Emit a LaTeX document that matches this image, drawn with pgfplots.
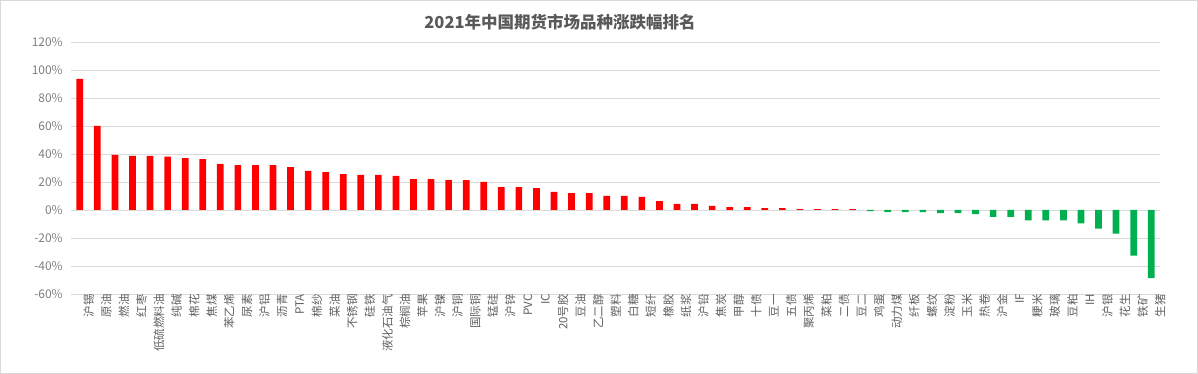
\documentclass[border=0pt]{standalone}
\usepackage{fontspec}
\setmainfont{Noto Sans CJK SC}
\usepackage{pgfplots}
\pgfplotsset{compat=1.18}
\definecolor{upred}{HTML}{FF0000}
\definecolor{downgreen}{HTML}{00B050}
\definecolor{gridgray}{HTML}{D9D9D9}
\definecolor{ticktxt}{HTML}{7F7F7F}
\definecolor{labtxt}{HTML}{606060}
\definecolor{titletxt}{HTML}{595959}
\begin{document}
\begin{tikzpicture}
\path[use as bounding box] (0pt,0pt) rectangle (1198pt,374pt);
\draw[gridgray] (0.5pt,0.5pt) rectangle (1197.5pt,373.5pt);
\node[font=\bfseries\fontsize{16.5}{18}\selectfont, text=titletxt] at (560pt,352pt) {2021年中国期货市场品种涨跌幅排名};
\begin{axis}[
  at={(71pt,80pt)}, anchor=south west,
  scale only axis, width=1089pt, height=252pt,
  xmin=-0.5, xmax=61.5, ymin=-60, ymax=120,
  enlargelimits=false,
  ybar, bar width=6.7pt, bar shift=0pt,
  axis line style={draw=none},
  major tick length=0pt,
  ymajorgrids, major grid style={gridgray, line width=0.8pt},
  ytick={-60,-40,...,120},
  yticklabel={\pgfmathprintnumber{\tick}\%},
  /pgf/number format/assume math mode=true,
  yticklabel style={font=\fontsize{12}{14}\selectfont, text=ticktxt, inner sep=0pt, anchor=east, xshift=-8pt},
  xtick={0,...,61},
  xticklabels={沪锡,原油,燃油,红枣,低硫燃料油,纯碱,棉花,焦煤,苯乙烯,尿素,沪铝,沥青,PTA,棉纱,菜油,不锈钢,硅铁,液化石油气,棕榈油,苹果,沪镍,沪铜,国际铜,锰硅,沪锌,PVC,IC,20号胶,豆油,乙二醇,塑料,白糖,短纤,橡胶,纸浆,沪铅,焦炭,甲醇,十债,豆一,五债,聚丙烯,菜粕,二债,豆二,鸡蛋,动力煤,纤板,螺纹,淀粉,玉米,热卷,沪金,IF,粳米,玻璃,豆粕,IH,沪银,花生,铁矿,生猪},
  xticklabel style={rotate=90, anchor=east, inner sep=0pt, font=\fontsize{11.5}{12}\selectfont, text=labtxt, yshift=-9pt},
  clip=false,
]
\addplot[fill=upred, draw=none] coordinates {
(0,93.6) (1,60.0) (2,39.3) (3,38.6) (4,38.6) (5,38.1) (6,37.1) (7,36.4) (8,32.9) (9,32.1)
(10,32.1) (11,32.1) (12,30.7) (13,27.9) (14,27.1) (15,25.7) (16,25.0) (17,25.0) (18,24.3) (19,22.1)
(20,22.1) (21,21.4) (22,21.4) (23,20.0) (24,16.4) (25,16.4) (26,15.7) (27,12.9) (28,12.1) (29,12.1)
(30,10.0) (31,10.0) (32,9.3) (33,6.4) (34,4.3) (35,4.3) (36,2.9) (37,2.1) (38,2.1) (39,1.4)
(40,1.4) (41,0.7) (42,0.7) (43,0.7) (44,0.7)
};
\addplot[fill=downgreen, draw=none] coordinates {
(45,-0.8) (46,-1.5) (47,-1.5) (48,-1.5) (49,-2.2) (50,-2.2) (51,-3.0) (52,-5.0) (53,-5.0) (54,-7.4)
(55,-7.4) (56,-7.4) (57,-9.6) (58,-13.3) (59,-16.8) (60,-32.6) (61,-48.6)
};
\end{axis}
\end{tikzpicture}
\end{document}
